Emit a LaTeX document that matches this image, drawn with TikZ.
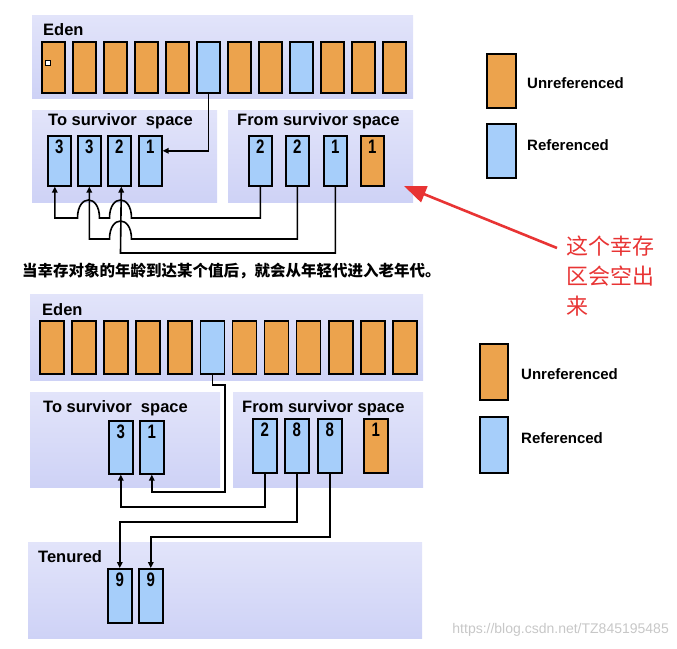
\documentclass[tikz,border=0pt]{standalone}
\usepackage{fontspec}
\setmainfont{Liberation Sans}
\newfontfamily\cjk{Noto Sans CJK SC}
\usetikzlibrary{arrows.meta}
\definecolor{obox}{RGB}{236,163,77}
\definecolor{bbox}{RGB}{166,206,250}
\definecolor{paneltop}{RGB}{226,228,250}
\definecolor{panelbot}{RGB}{206,210,246}
\definecolor{myred}{RGB}{232,52,52}
\tikzset{
  panel/.style={anchor=north west, inner sep=0pt, top color=paneltop, bottom color=panelbot, draw=none},
  cell/.style={anchor=north west, draw=black, line width=1.6pt, inner sep=0pt, minimum width=23pt, minimum height=51pt},
  ocell/.style={cell, fill=obox},
  bcell/.style={cell, fill=bbox},
  num/.style={anchor=north, inner sep=0pt, yshift=-5pt, font=\fontsize{15}{15}\selectfont\bfseries},
  plabel/.style={anchor=west, inner sep=0pt, font=\fontsize{16.5}{16.5}\selectfont\bfseries},
  llabel/.style={anchor=west, inner sep=0pt, font=\fontsize{15}{15}\selectfont\bfseries},
  conn/.style={draw=black, line width=1.6pt, -{Triangle[length=6pt,width=5.5pt]}},
  redarrow/.style={draw=myred, line width=2.6pt, -{Triangle[length=22pt,width=17pt]}},
}
\begin{document}
\begin{tikzpicture}[x=1pt,y=-1pt]
\useasboundingbox (0,0) rectangle (677,648);

% ================= TOP =================
\node[panel, minimum width=381pt, minimum height=83pt] (tEden) at (32,15) {};
\node[panel, minimum width=185pt, minimum height=92pt] (tTo) at (32,110) {};
\node[panel, minimum width=185pt, minimum height=92pt] (tFrom) at (228,110) {};

\node[plabel] (tEdenL) at (43,30) {Eden};
\node[plabel] (tToL) at (48,121) {To survivor\ \ space};
\node[plabel] (tFromL) at (237,121) {From survivor space};

\foreach \i/\c in {1/ocell,2/ocell,3/ocell,4/ocell,5/ocell,6/bcell,7/ocell,8/ocell,9/bcell,10/ocell,11/ocell,12/ocell}{
  \node[\c] (te\i) at ({41+31*(\i-1)},41) {};
}
\node[draw=black, fill=white, line width=0.6pt, minimum size=5pt, inner sep=0pt] (tdot) at (48,63) {};

% To survivor boxes
\foreach \i/\x/\n in {1/47/3,2/77/3,3/107/2,4/138/1}{
  \node[bcell, minimum height=50pt] (tt\i) at (\x,135) {};
  \node[num] (tt\i n) at (tt\i.north) {\scalebox{1}[1.3]{\n}};
}
% From survivor boxes
\foreach \i/\x/\n/\c in {1/248/2/bcell,2/285/2/bcell,3/323/1/bcell,4/360/1/ocell}{
  \node[\c, minimum height=50pt] (tf\i) at (\x,135) {};
  \node[num] (tf\i n) at (tf\i.north) {\scalebox{1}[1.3]{\n}};
}

% connectors top
\draw[conn] (te6.south) |- ([yshift=10pt]tt4.east);
\draw[conn] (tf1.south) |- (131.5,218)
   .. controls (131.5,194) and (109.5,194) .. (109.5,218) -- (99.5,218)
   .. controls (99.5,194) and (77.5,194) .. (77.5,218) -| ([xshift=-4.5pt]tt1.south);
\draw[conn] (tf2.south) |- (131.5,239)
   .. controls (131.5,215) and (109.5,215) .. (109.5,239) -| (tt2.south);
\draw[conn] (tf3.south) |- (120.5,253) -- ([xshift=2pt]tt3.south);

% legend top
\node[ocell, minimum width=29pt, minimum height=54pt] (lg1) at (486,53) {};
\node[bcell, minimum width=29pt, minimum height=54pt] (lg2) at (486,123) {};
\node[llabel] (lg1L) at (527,83) {Unreferenced};
\node[llabel] (lg2L) at (527,145) {Referenced};

% red arrow and note
\coordinate (rtail) at (557,248);
\coordinate (rtip) at (404,186);
\draw[redarrow] (rtail) -- (rtip);
\node[anchor=north west, align=left, inner sep=0pt, text=myred,
      font=\cjk\fontsize{22}{30}\selectfont] (note) at (566,236) {这个幸存\\区会空出\\来};

% caption
\node[anchor=west, inner sep=0pt, font=\cjk\bfseries\fontsize{15.5}{16}\selectfont] (cap) at (22,271)
  {当幸存对象的年龄到达某个值后，就会从年轻代进入老年代。};

% ================= BOTTOM =================
\node[panel, minimum width=393pt, minimum height=86pt] (bEden) at (30,294) {};
\node[panel, minimum width=190pt, minimum height=95pt] (bTo) at (30,392) {};
\node[panel, minimum width=190pt, minimum height=95pt] (bFrom) at (233,392) {};
\node[panel, minimum width=394pt, minimum height=96pt] (bTen) at (28,542) {};

\node[plabel] (bEdenL) at (42,310) {Eden};
\node[plabel] (bToL) at (43,408) {To survivor\ \ space};
\node[plabel] (bFromL) at (242,408) {From survivor space};
\node[plabel] (bTenL) at (38,557) {Tenured};

\foreach \i/\c in {1/ocell,2/ocell,3/ocell,4/ocell,5/ocell,6/bcell,7/ocell,8/ocell,9/ocell,10/ocell,11/ocell,12/ocell}{
  \node[\c, minimum width=24pt, minimum height=53pt] (be\i) at ({39+32.1*(\i-1)},320) {};
}

\foreach \i/\x/\n in {1/108/3,2/139/1}{
  \node[bcell, minimum width=24pt, minimum height=53pt] (bt\i) at (\x,420) {};
  \node[num] (bt\i n) at (bt\i.north) {\scalebox{1}[1.3]{\n}};
}
\foreach \i/\x/\n/\c in {1/252/2/bcell,2/284/8/bcell,3/317/8/bcell,4/363/1/ocell}{
  \node[\c, minimum width=24pt, minimum height=54pt] (bf\i) at (\x,418) {};
  \node[num] (bf\i n) at (bf\i.north) {\scalebox{1}[1.3]{\n}};
}
\foreach \i/\x in {1/107,2/138}{
  \node[bcell, minimum width=24pt, minimum height=54pt] (tn\i) at (\x,568) {};
  \node[num] (tn\i n) at (tn\i.north) {\scalebox{1}[1.3]{9}};
}

% connectors bottom
\draw[conn] (be6.south) |- (225,385) -- (225,492) -| (bt2.south);
\draw[conn] (bf1.south) |- (bt1.south |- 0,507) -- (bt1.south);
\draw[conn] (bf2.south) |- (tn1.north |- 0,522) -- (tn1.north);
\draw[conn] (bf3.south) |- (tn2.north |- 0,537) -- (tn2.north);

% legend bottom
\node[ocell, minimum width=28pt, minimum height=56pt] (lg3) at (479,343) {};
\node[bcell, minimum width=28pt, minimum height=56pt] (lg4) at (479,416) {};
\node[llabel] (lg3L) at (521,374) {Unreferenced};
\node[llabel] (lg4L) at (521,438) {Referenced};

% watermark
\node[anchor=east, inner sep=0pt, text=black!22, font=\fontsize{14}{14}\selectfont] (wm) at (669,630)
  {https://blog.csdn.net/TZ845195485};
\end{tikzpicture}
\end{document}
